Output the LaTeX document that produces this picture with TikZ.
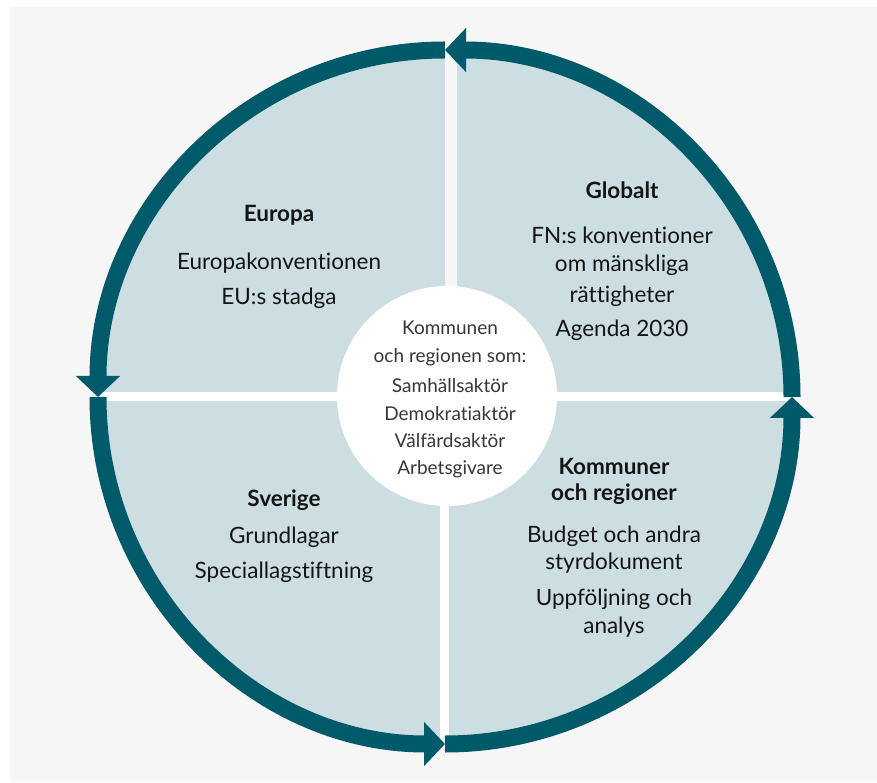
\documentclass[tikz,border=0pt]{standalone}
\usepackage{fontspec}
\setmainfont{Lato}[Ligatures=NoCommon]
\usetikzlibrary{arrows.meta}
\definecolor{ringcol}{HTML}{005A6A}
\definecolor{fillcol}{HTML}{CDDEE3}
\definecolor{bgcol}{HTML}{F6F6F6}
\definecolor{txtcol}{HTML}{141414}
\begin{document}
\begin{tikzpicture}[x=1pt,y=1pt,
  ring/.style={line width=17pt, draw=ringcol, -{Triangle[width=43pt,length=21pt]}},
  lbl/.style={anchor=base, inner sep=0pt, text=txtcol, font=\fontsize{22.5}{26}\selectfont},
  hd/.style={lbl, font=\fontsize{22.5}{26}\selectfont\bfseries},
  ctr/.style={lbl, font=\fontsize{19}{22}\selectfont, text=txtcol!85}]
\useasboundingbox (0,0) rectangle (877,782);
\fill[bgcol] (10,0) rectangle (877,775);
\coordinate (C) at (445,385);
\coordinate (E) at (792,385);
\coordinate (N) at (445,732);
\coordinate (W) at (98,385);
\coordinate (S) at (445,38);
% quadrant fill
\fill[fillcol] (C) circle[radius=347];
\begin{scope}
  \clip (C) circle[radius=347];
  \fill[white] (0,381) rectangle (877,390);
  \fill[bgcol] (445,385) rectangle (457,782);
  \fill[white] (440,0) rectangle (449,385);
\end{scope}
% centre disc
\node[circle, fill=white, minimum size=220pt, inner sep=0pt] (mid) at (447,386) {};
% ring
\draw[ring] (E) arc[start angle=0, end angle=90, radius=347];
\draw[ring] (N) arc[start angle=90, end angle=180, radius=347];
\draw[ring] (W) arc[start angle=180, end angle=270, radius=347];
\draw[ring] (S) arc[start angle=270, end angle=360, radius=347];
% Europa
\node[hd]  (eu0) at (279,560) {Europa};
\node[lbl] (eu1) at (279,512) {Europakonventionen};
\node[lbl] (eu2) at (279,477) {EU:s stadga};
% Globalt
\node[hd]  (gl0) at (622,583) {Globalt};
\node[lbl] (gl1) at (622,538) {FN:s konventioner};
\node[lbl] (gl2) at (622,510) {om mänskliga};
\node[lbl] (gl3) at (622,479) {rättigheter};
\node[lbl] (gl4) at (622,445) {Agenda 2030};
% Kommuner
\node[hd]  (ko0) at (614,307) {Kommuner};
\node[hd]  (ko1) at (614,282) {och regioner};
\node[lbl] (ko2) at (614,240) {Budget och andra};
\node[lbl] (ko3) at (614,213) {styrdokument};
\node[lbl] (ko4) at (614,177) {Uppföljning och};
\node[lbl] (ko5) at (614,149) {analys};
% Sverige
\node[hd]  (sv0) at (284,276) {Sverige};
\node[lbl] (sv1) at (284,239) {Grundlagar};
\node[lbl] (sv2) at (284,204) {Speciallagstiftning};
% centre
\node[ctr] (c0) at (450,447) {Kommunen};
\node[ctr] (c1) at (450,419) {och regionen som:};
\node[ctr] (c2) at (450,389) {Samhällsaktör};
\node[ctr] (c3) at (450,361) {Demokratiaktör};
\node[ctr] (c4) at (450,334) {Välfärdsaktör};
\node[ctr] (c5) at (450,307) {Arbetsgivare};
\end{tikzpicture}
\end{document}
